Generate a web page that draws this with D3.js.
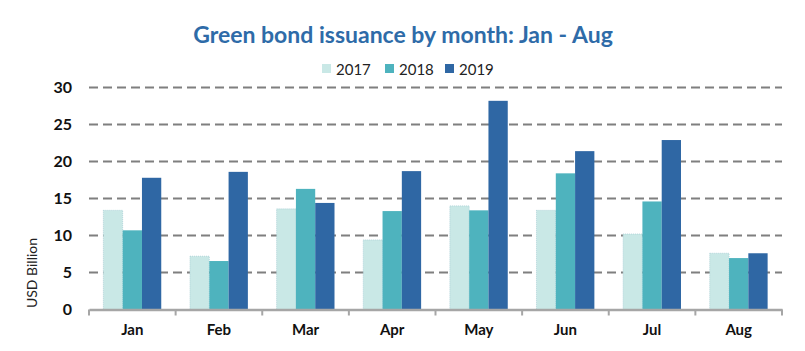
<!DOCTYPE html>
<html><head><meta charset="utf-8">
<script src="https://cdn.jsdelivr.net/npm/d3@7"></script>
<style>body{margin:0;background:#fff;} svg{display:block;}</style>
</head><body>
<script>
const months = ["Jan","Feb","Mar","Apr","May","Jun","Jul","Aug"];
const seriesNames = ["2017","2018","2019"];
const v2017 = [13.4, 7.2, 13.6, 9.4, 14.0, 13.4, 10.2, 7.6];
const v2018 = [10.7, 6.55, 16.3, 13.3, 13.4, 18.4, 14.6, 6.95];
const v2019 = [17.8, 18.6, 14.4, 18.7, 28.2, 21.4, 22.9, 7.6];
const yTicks = [0,5,10,15,20,25,30];
const colors = ["#C9E8E6","#4EB3BE","#2F67A4"];
const seriesValues = [v2017, v2018, v2019];

const W = 805, H = 351;
const margin = {left: 89, right: 23, top: 87.5, bottom: 41.5};
const svg = d3.select("body").append("svg").attr("width", W).attr("height", H);
const font = "Lato, 'Open Sans', sans-serif";

const x = d3.scaleBand().domain(months).range([margin.left, W - margin.right]).paddingInner(0).paddingOuter(0);
const xs = d3.scaleBand().domain(seriesNames).range([0, x.bandwidth()]).paddingInner(0).paddingOuter(0.745);
const y = d3.scaleLinear().domain([0, 30]).range([H - margin.bottom, margin.top]);

// title
svg.append("text").attr("x", 403).attr("y", 43).attr("text-anchor","middle")
  .attr("font-family", font).attr("font-weight","bold").attr("font-size", 23)
  .attr("fill","#2E6BA8").text("Green bond issuance by month: Jan - Aug");

// legend
const legX = [322, 385, 445];
seriesNames.forEach((s,i) => {
  const g = svg.append("g").attr("transform", `translate(${legX[i]},69)`);
  g.append("rect").attr("x",0).attr("y",-5).attr("width",9).attr("height",9).attr("fill",colors[i]);
  g.append("text").attr("x",14).attr("y",5.5).attr("font-family", font).attr("font-size",15)
    .attr("fill","#222").text(s);
});

// gridlines
svg.append("g").selectAll("line").data(yTicks.filter(d => d > 0)).join("line")
  .attr("x1", margin.left).attr("x2", W - margin.right)
  .attr("y1", d => y(d)).attr("y2", d => y(d))
  .attr("stroke", "#7F7F7F").attr("stroke-width", 2).attr("stroke-dasharray", "9,5");

// y axis labels
const yAxis = d3.axisLeft(y).tickValues(yTicks).tickSize(0).tickPadding(17);
const yg = svg.append("g").attr("transform", `translate(${margin.left},0)`).call(yAxis);
yg.select(".domain").remove();
yg.selectAll("text").attr("font-family", font).attr("font-weight","bold").attr("font-size",16).attr("fill","#111");

// y title
svg.append("text").attr("transform", `translate(37,273) rotate(-90)`).attr("text-anchor","middle")
  .attr("font-family", font).attr("font-size",14).attr("fill","#222").text("USD Billion");

// bars
const groups = svg.append("g").selectAll("g").data(months).join("g")
  .attr("transform", d => `translate(${x(d)},0)`);
groups.selectAll("rect").data((m, mi) => seriesNames.map((s, si) => ({s, si, v: seriesValues[si][mi]})))
  .join("rect")
  .attr("x", d => xs(d.s)).attr("width", xs.bandwidth())
  .attr("y", d => y(d.v)).attr("height", d => y(0) - y(d.v))
  .attr("fill", d => colors[d.si])
  .attr("stroke", d => d.si === 0 ? "#A9CFD6" : "none")
  .attr("stroke-width", 0.8).attr("stroke-dasharray", d => d.si === 0 ? "1,1" : null);

// x axis
const xAxis = d3.axisBottom(x).tickSize(0).tickPadding(15);
const xg = svg.append("g").attr("transform", `translate(0,${y(0)})`).call(xAxis);
xg.select(".domain").attr("stroke","#A6A6A6").attr("stroke-width",2.5);
xg.selectAll("text").attr("font-family", font).attr("font-weight","bold").attr("font-size",15).attr("fill","#111");
const bounds = months.map(m => x(m)).concat([x(months[months.length-1]) + x.bandwidth()]);
xg.append("g").selectAll("line").data(bounds).join("line")
  .attr("x1", d => d).attr("x2", d => d).attr("y1", 0).attr("y2", 6)
  .attr("stroke","#A6A6A6").attr("stroke-width",2);
</script>
</body></html>
